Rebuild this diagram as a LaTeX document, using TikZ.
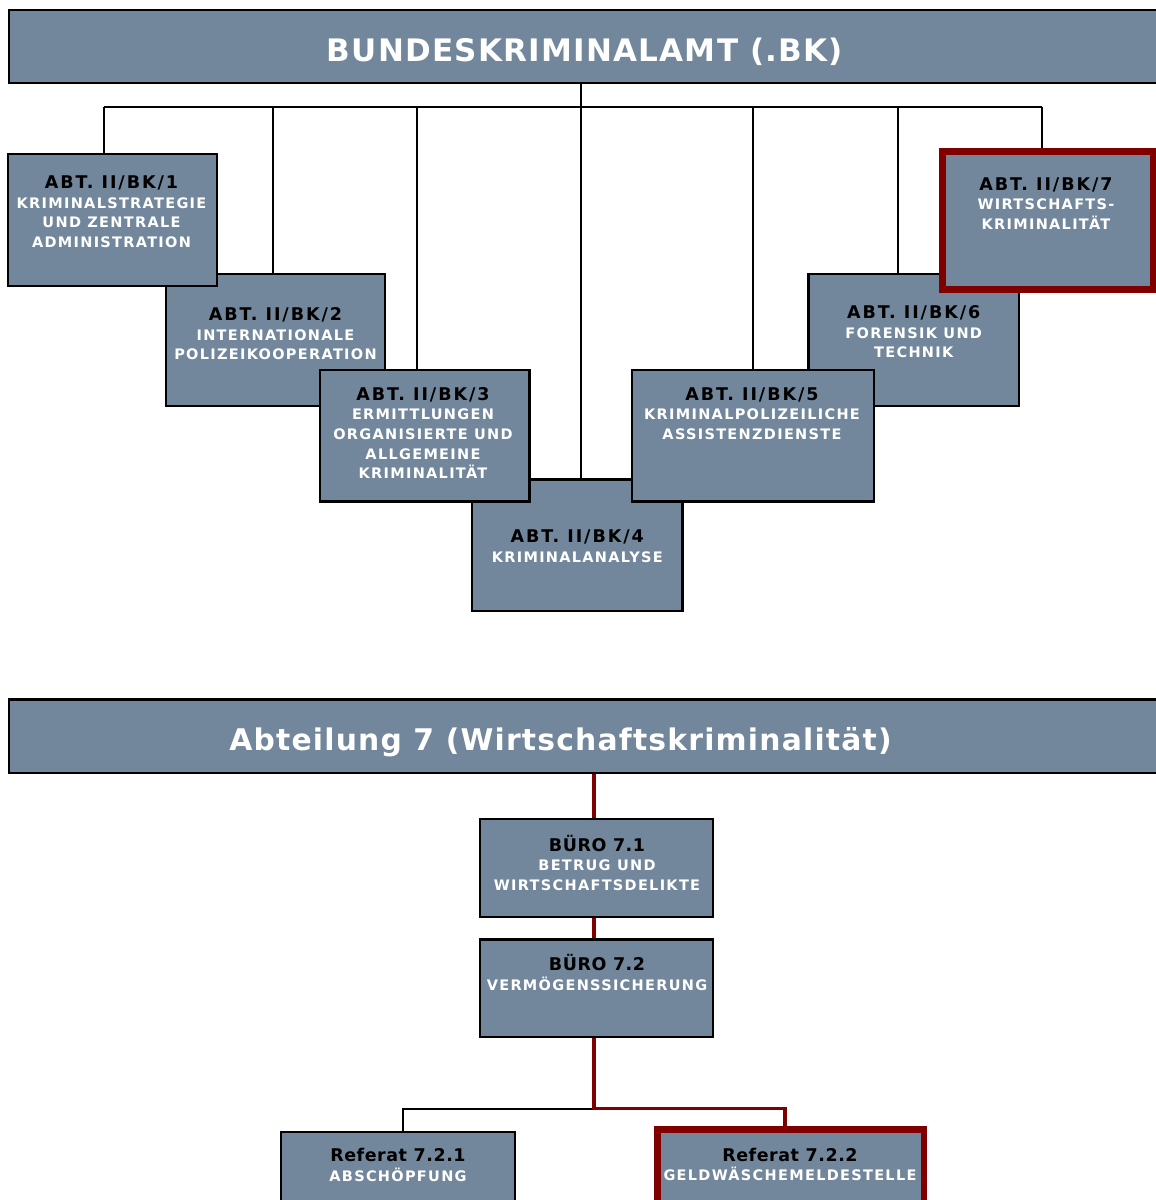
\documentclass[tikz,border=0pt]{standalone}
\usepackage{fontspec}
\setmainfont{DejaVu Sans}
\newfontfamily\bannerfam{DejaVu Sans}[LetterSpace=4]
\newfontfamily\ttlfam{DejaVu Sans}[LetterSpace=11]
\newfontfamily\ttlfamB{DejaVu Sans}[LetterSpace=3]
\newfontfamily\subfam{DejaVu Sans}[LetterSpace=9]
\usetikzlibrary{backgrounds}
\definecolor{boxfill}{RGB}{114,135,155}
\definecolor{darkred}{RGB}{128,0,0}
\newcommand\ttlA{\ttlfam\bfseries\fontsize{17.5}{19.7}\selectfont}
\newcommand\ttlB{\ttlfamB\bfseries\fontsize{17.5}{19.7}\selectfont}
\newcommand\orgtext[3]{\begin{tabular}[t]{@{}c@{}}{#1\color{black}#2}\\#3\end{tabular}}
\tikzset{
  orgbox/.style={draw=black, line width=2.2pt, fill=boxfill, inner sep=0pt, outer sep=0pt},
  hotbox/.style={orgbox, draw=darkred, line width=7pt},
  banner/.style={orgbox, minimum width=1151pt, minimum height=73pt},
  lbl/.style={anchor=base, inner sep=0pt, text=white, font=\subfam\bfseries\fontsize{14.5}{19.7}\selectfont},
  bannertext/.style={anchor=base, inner sep=0pt, text=white},
  conn/.style={draw=black, line width=2pt},
  redconn/.style={draw=darkred, line width=3.8pt},
}
\begin{document}
\begin{tikzpicture}[x=1pt, y=-1pt]
\useasboundingbox (0,0) rectangle (1156,1200);

% ---------- top banner ----------
\node[banner] (h1) at (584.5,46.5) {};
\node[bannertext, font=\bannerfam\bfseries\fontsize{31}{36}\selectfont] (h1t) at (585,61) {BUNDESKRIMINALAMT (.BK)};

% ---------- bus coordinates ----------
\coordinate (b1) at (104,106.5);
\coordinate (b2) at (273,106.5);
\coordinate (b3) at (416.5,106.5);
\coordinate (b4) at (580.5,106.5);
\coordinate (b5) at (753,106.5);
\coordinate (b6) at (897.5,106.5);
\coordinate (b7) at (1041.5,106.5);

% ---------- lower layer boxes ----------
\node[orgbox, minimum width=219pt, minimum height=132pt] (bk2) at (275.5,340) {};
\node[lbl] (bk2t) at (275.5,320.3) {\orgtext{\ttlA}{ABT. II/BK/2}{INTERNATIONALE\\POLIZEIKOOPERATION}};
\node[orgbox, minimum width=210.5pt, minimum height=131.5pt] (bk4) at (577.25,545.25) {};
\node[lbl] (bk4t) at (577.25,542.7) {\orgtext{\ttlA}{ABT. II/BK/4}{KRIMINALANALYSE}};
\node[orgbox, minimum width=210.5pt, minimum height=132pt] (bk6) at (913.75,340) {};
\node[lbl] (bk6t) at (913.75,318.3) {\orgtext{\ttlA}{ABT. II/BK/6}{FORENSIK UND\\TECHNIK}};

% ---------- upper layer boxes ----------
\node[orgbox, minimum width=209pt, minimum height=132pt] (bk1) at (112.5,220) {};
\node[lbl] (bk1t) at (111.5,188.3) {\orgtext{\ttlA}{ABT. II/BK/1}{KRIMINALSTRATEGIE\\UND ZENTRALE\\ADMINISTRATION}};
\node[orgbox, minimum width=209.5pt, minimum height=131.5pt] (bk3) at (424.75,435.75) {};
\node[lbl] (bk3t) at (423,400) {\orgtext{\ttlA}{ABT. II/BK/3}{ERMITTLUNGEN\\ORGANISIERTE UND\\ALLGEMEINE\\KRIMINALITÄT}};
\node[orgbox, minimum width=242pt, minimum height=131.5pt] (bk5) at (753,435.75) {};
\node[lbl] (bk5t) at (752,400) {\orgtext{\ttlA}{ABT. II/BK/5}{KRIMINALPOLIZEILICHE\\ASSISTENZDIENSTE}};
\node[hotbox, minimum width=211pt, minimum height=138pt] (bk7) at (1047.5,220) {};
\node[lbl] (bk7t) at (1046,190) {\orgtext{\ttlA}{ABT. II/BK/7}{WIRTSCHAFTS-\\KRIMINALITÄT}};

% ---------- top connectors ----------
\begin{scope}[on background layer]
  \draw[conn] (b1) -- (b7);
  \draw[conn] (h1.south -| b4) -- (b4 |- bk4.north);
  \draw[conn] (b1) -- (b1 |- bk1.north);
  \draw[conn] (b2) -- (b2 |- bk2.north);
  \draw[conn] (b3) -- (b3 |- bk3.north);
  \draw[conn] (b5) -- (b5 |- bk5.north);
  \draw[conn] (b6) -- (b6 |- bk6.north);
  \draw[conn] (b7) -- (b7 |- bk7.north);
\end{scope}

% ---------- lower section ----------
\node[banner, minimum height=73.5pt] (h2) at (584.5,736.25) {};
\node[bannertext, font=\bannerfam\bfseries\fontsize{29.8}{34}\selectfont] (h2t) at (560.5,750) {Abteilung 7 (Wirtschaftskriminalität)};

\node[orgbox, minimum width=233pt, minimum height=98pt] (bu1) at (596.5,868) {};
\node[lbl] (bu1t) at (597,851) {\orgtext{\ttlB}{BÜRO 7.1}{BETRUG UND\\WIRTSCHAFTSDELIKTE}};
\node[orgbox, minimum width=233pt, minimum height=97.5pt] (bu2) at (596.5,988.25) {};
\node[lbl] (bu2t) at (597,970.5) {\orgtext{\ttlB}{BÜRO 7.2}{VERMÖGENSSICHERUNG}};

\node[orgbox, minimum width=234pt, minimum height=83pt] (r1) at (398,1173.5) {};
\node[lbl] (r1t) at (398,1161.7) {\orgtext{\ttlB}{Referat 7.2.1}{ABSCHÖPFUNG}};
\node[hotbox, line width=6.5pt, minimum width=266.5pt, minimum height=85.5pt] (r2) at (790.75,1172.25) {};
\node[lbl] (r2t) at (790,1161) {\orgtext{\ttlB}{Referat 7.2.2}{GELDWÄSCHEMELDESTELLE}};

\coordinate (j) at (594,1108.5);
\coordinate (jl) at (403,1108.5);
\coordinate (jr) at (785,1108.5);

\begin{scope}[on background layer]
  \draw[conn] (j) -- (jl) -- (jl |- r1.north);
  \draw[redconn] (h2.south -| j) -- (bu1.north -| j);
  \draw[redconn] (bu1.south -| j) -- (bu2.north -| j);
  \draw[redconn] (bu2.south -| j) -- (j) -- (jr) -- (jr |- r2.north);
\end{scope}
\end{tikzpicture}
\end{document}
